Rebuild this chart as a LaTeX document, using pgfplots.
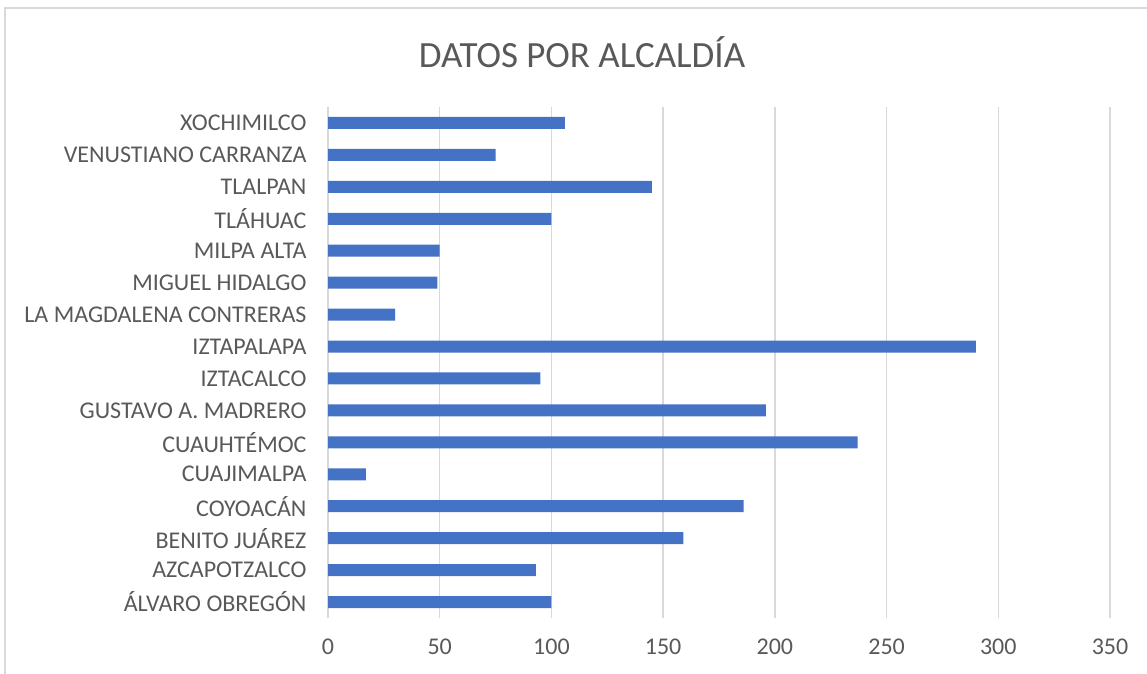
\documentclass[border=0pt]{standalone}
\usepackage{fontspec}
\setmainfont{Carlito}
\usepackage{pgfplots}
\pgfplotsset{compat=1.18}
\definecolor{barblue}{HTML}{4472C4}
\definecolor{gridgray}{HTML}{D9D9D9}
\definecolor{textgray}{HTML}{595959}
\begin{document}
\begin{tikzpicture}
\useasboundingbox (0,0) rectangle (1147pt,673pt);
\clip (0,0) rectangle (1147pt,673pt);
\draw[gridgray, line width=1.5pt] (5pt,-10pt) rectangle (1160pt,665pt);
\node[textgray, font=\fontsize{37}{44}\selectfont] at (582pt,621pt) {DATOS POR ALCALDÍA};
\begin{axis}[
  at={(328pt,55pt)}, anchor=south west,
  scale only axis, width=782pt, height=511pt,
  xbar, bar width=12pt,
  xmin=0, xmax=350, ymin=-0.5, ymax=15.5,
  xtick={0,50,...,350},
  ytick={0,...,15},
  yticklabels={ÁLVARO OBREGÓN, AZCAPOTZALCO, BENITO JUÁREZ, COYOACÁN, CUAJIMALPA, CUAUHTÉMOC, GUSTAVO A. MADRERO, IZTACALCO, IZTAPALAPA, LA MAGDALENA CONTRERAS, MIGUEL HIDALGO, MILPA ALTA, TLÁHUAC, TLALPAN, VENUSTIANO CARRANZA, XOCHIMILCO},
  axis line style={draw=none},
  major tick length=0pt,
  xmajorgrids, grid style={gridgray, line width=1.5pt},
  tick label style={textgray, font=\fontsize{24}{29}\selectfont},
  /pgf/number format/assume math mode=true,
  xticklabel style={yshift=-17pt},
  yticklabel style={xshift=-18pt},
]
\addplot[fill=barblue, draw=none] coordinates {
(100,0) (93,1) (159,2) (186,3) (17,4) (237,5) (196,6) (95,7) (290,8) (30,9) (49,10) (50,11) (100,12) (145,13) (75,14) (106,15)
};
\end{axis}
\end{tikzpicture}
\end{document}
